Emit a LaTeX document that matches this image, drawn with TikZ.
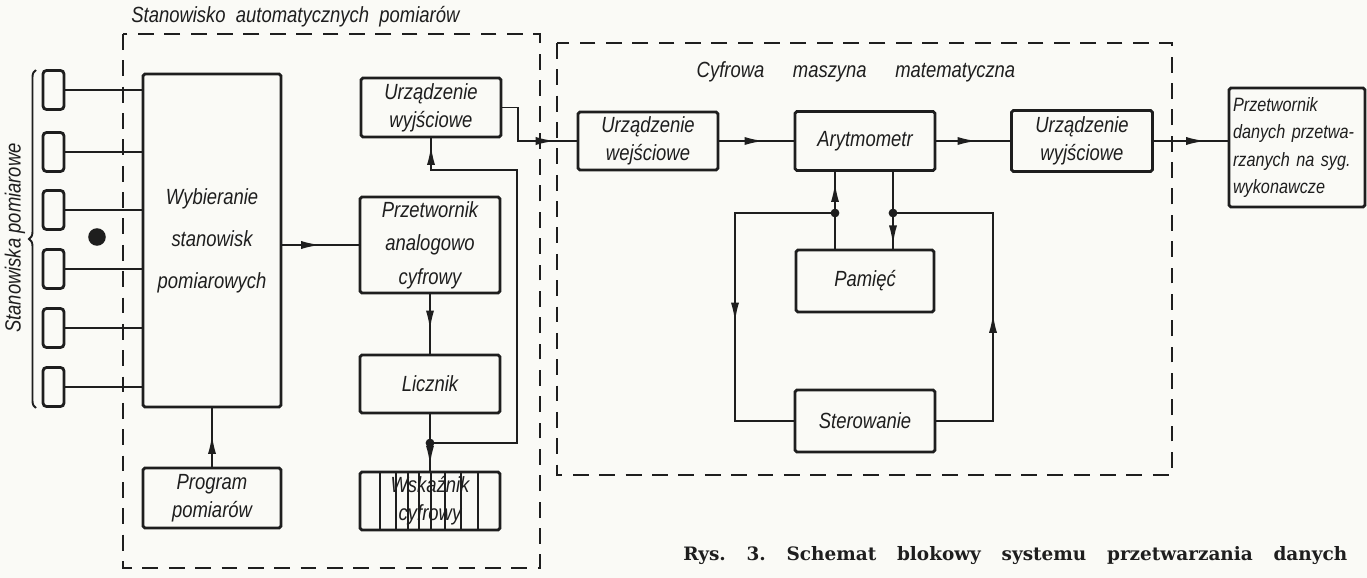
\documentclass[tikz,border=0pt]{standalone}
\usepackage{fontspec}
\usetikzlibrary{arrows.meta,decorations.markings,decorations.pathreplacing}
\newfontfamily\hand[FakeStretch=0.84]{Liberation Sans}
\newfontfamily\capfont{DejaVu Serif}
\definecolor{bgc}{RGB}{250,250,246}
\definecolor{ink}{RGB}{30,30,30}
\begin{document}
\begin{tikzpicture}[x=0.02cm,y=-0.02cm, color=ink,
  box/.style={draw=ink, line width=1.6pt, rounded corners=1pt, inner sep=2pt, align=center,
    font=\hand\itshape\fontsize{12.5}{16}\selectfont, text=ink},
  conn/.style={draw=ink, line width=1.1pt},
  dashbox/.style={draw=ink, line width=1.5pt, dash pattern=on 9pt off 6pt},
  midarr/.style={postaction={decorate, decoration={markings, mark=at position #1 with {\arrow{Latex[length=11pt,width=4.6pt]}}}}},
  jdot/.style={circle, fill=ink, draw=none, inner sep=0pt, minimum size=5pt},
  lbl/.style={font=\hand\itshape\fontsize{12.5}{16}\selectfont, text=ink, inner sep=0pt}
]
\fill[bgc] (0,0) rectangle (1367,578);
\useasboundingbox (0,0) rectangle (1367,578);

% dashed frames
\draw[dashbox] (123,34) rectangle (540,568);
\draw[dashbox] (557,43) rectangle (1172,475);

% titles
\node[lbl, anchor=west] (t1) at (131,17) {Stanowisko\ \ automatycznych\ \ pomiarów};
\node[lbl] (t2) at (856,72) {Cyfrowa\hspace{1.3em}maszyna\hspace{1.3em}matematyczna};

% measuring stations
\foreach \i/\y in {1/90,2/152,3/210,4/269,5/328,6/387}
  \node[box, rounded corners=2pt, minimum width=0.42cm, minimum height=0.78cm] (s\i) at (53.5,\y) {};
\draw[line width=1.1pt, decorate, decoration={brace, amplitude=4pt, aspect=0.5}] (36,408) -- (36,70);
\node[lbl, rotate=90] (sp) at (15,238) {Stanowiska pomiarowe};
\node[jdot, minimum size=10pt] (blob) at (97,237) {};

% left section boxes
\node[box, minimum width=2.76cm, minimum height=6.66cm, font=\hand\itshape\fontsize{12.5}{24}\selectfont] (wyb) at (212,240.5) {Wybieranie\\stanowisk\\pomiarowych};
\node[box, minimum width=2.76cm, minimum height=1.2cm] (prog) at (212,498) {Program\\pomiarów};
\node[box, minimum width=2.8cm, minimum height=1.18cm] (uwy1) at (431,107.5) {Urządzenie\\wyjściowe};
\node[box, minimum width=2.8cm, minimum height=1.92cm, font=\hand\itshape\fontsize{12.5}{19}\selectfont] (prz) at (430,245) {Przetwornik\\analogowo\\cyfrowy};
\node[box, minimum width=2.8cm, minimum height=1.16cm] (lic) at (430,384) {Licznik};
\node[box, minimum width=2.8cm, minimum height=1.16cm] (wsk) at (430,501) {Wskaźnik\\cyfrowy};
\foreach \x in {380,396,408,419,431,445,461,478}
  \draw[line width=0.8pt] (\x,472) -- (\x,530);

% computer boxes
\node[box, minimum width=2.8cm, minimum height=1.16cm] (uwe) at (648,141) {Urządzenie\\wejściowe};
\node[box, minimum width=2.8cm, minimum height=1.18cm] (ary) at (865,141) {Arytmometr};
\node[box, minimum width=2.82cm, minimum height=1.22cm] (uwy2) at (1082,141) {Urządzenie\\wyjściowe};
\node[box, minimum width=2.76cm, minimum height=1.24cm] (pam) at (865,281) {Pamięć};
\node[box, minimum width=2.8cm, minimum height=1.24cm] (ste) at (865,421) {Sterowanie};
\node[box, minimum width=2.72cm, minimum height=2.38cm, align=left, text width=2.56cm,
  font=\hand\itshape\fontsize{11}{15.5}\selectfont] (prd) at (1297,147.5)
  {Przetwornik\\danych przetwa-\\rzanych na syg.\\wykonawcze};

% connectors, left section
\foreach \i in {1,...,6}
  \draw[conn] (s\i.east) -- (s\i.east -| wyb.west);
\draw[conn, midarr=0.55] (prog.north) -- (wyb.south);
\draw[conn, midarr=0.5] (prz.west -| wyb.east) -- (prz.west);
\draw[conn, midarr=0.6] (prz.south) -- (lic.north);
\coordinate (j1) at (430,443);
\draw[conn] (lic.south) -- (j1);
\draw[conn, midarr=0.8] (j1) -- (wsk.north);
\coordinate (f1) at (517,170);
\draw[conn, midarr=0.985] (j1) -| (f1) -| (uwy1.south);
\node[jdot] (d1) at (j1) {};
\coordinate (k1) at (518,141);
\draw[conn, midarr=0.8] (uwy1.east) -| (k1) -- (uwe.west);

% connectors, computer
\draw[conn, midarr=0.6] (uwe.east) -- (ary.west);
\draw[conn, midarr=0.55] (ary.east) -- (uwy2.west);
\draw[conn, midarr=0.7] (uwy2.east) -- (uwy2.east -| prd.west);

\coordinate (xl) at (835,0);
\coordinate (xr) at (893,0);
\draw[conn, midarr=0.86] (pam.north -| xl) -- (ary.south -| xl);
\draw[conn, midarr=0.95] (ary.south -| xr) -- (pam.north -| xr);
\coordinate (jL) at (835,213);
\coordinate (cL) at (735,213);
\coordinate (jR) at (893,213);
\coordinate (cR) at (993,213);
\draw[conn, midarr=0.57] (jL) -- (cL) |- (ste.west);
\draw[conn, midarr=0.45] (ste.east) -| (cR) -- (jR);
\node[jdot] (dL) at (jL) {};
\node[jdot] (dR) at (jR) {};

% caption
\node[anchor=base west, inner sep=0pt, text=ink, font=\capfont\bfseries\fontsize{10.5}{12}\selectfont] (cap) at (683,560)
  {\hbox to 13.28cm{Rys.\hfill 3.\hfill Schemat\hfill blokowy\hfill systemu\hfill przetwarzania\hfill danych}};
\end{tikzpicture}
\end{document}
